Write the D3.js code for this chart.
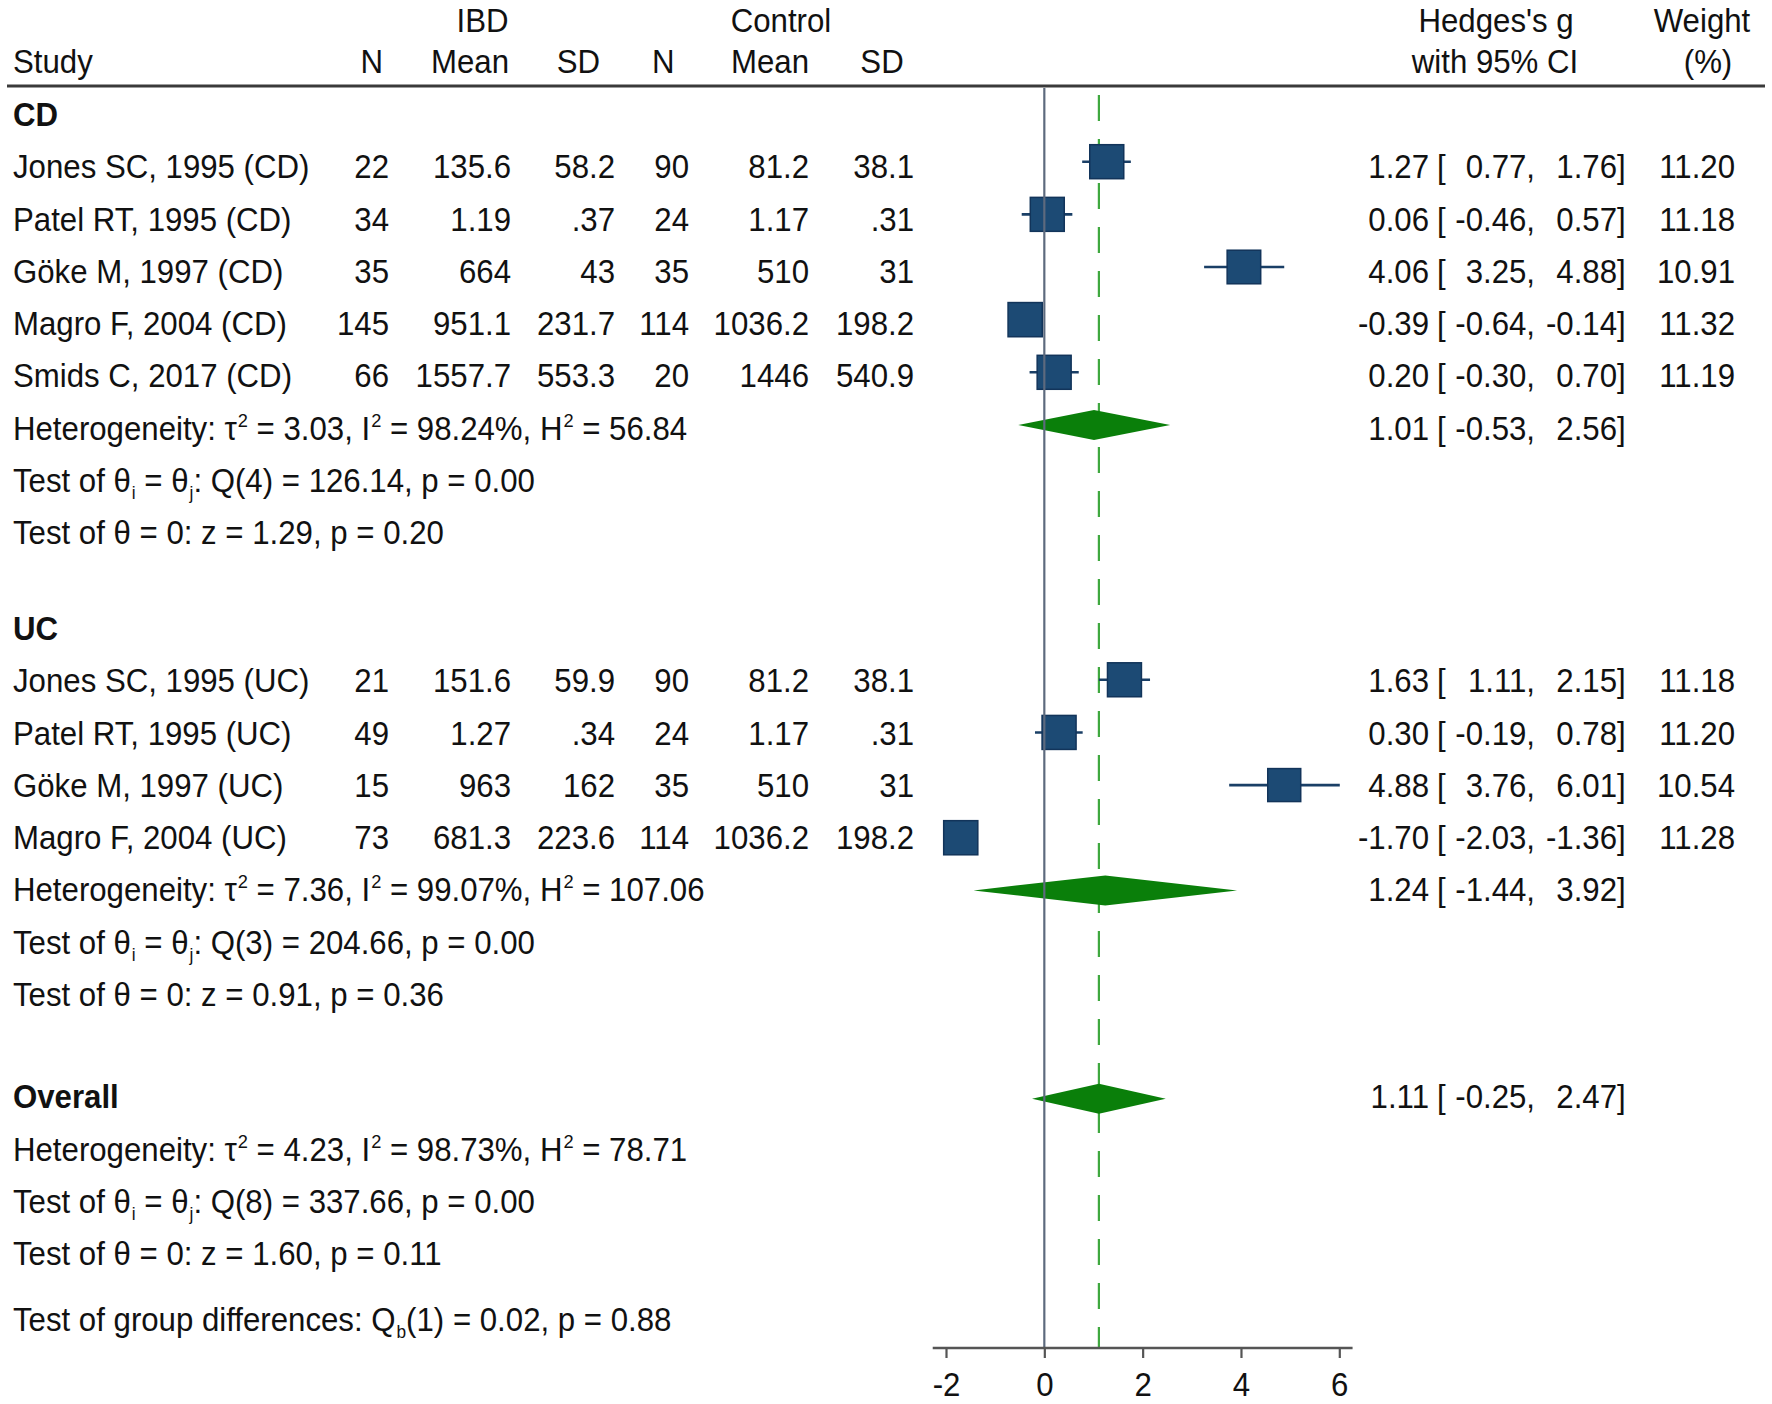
<!DOCTYPE html>
<html><head><meta charset="utf-8">
<script src="https://cdn.jsdelivr.net/npm/d3@7"></script>
<style>
body{margin:0;background:#fff}
svg{display:block}
text{font-family:"Liberation Sans",Arial,Helvetica,sans-serif;fill:#111}
</style>
</head><body>
<svg id="c" width="1772" height="1404"></svg>
<script>
// ---------- data ----------
const studies = ["Jones SC, 1995 (CD)","Patel RT, 1995 (CD)","Göke M, 1997 (CD)","Magro F, 2004 (CD)","Smids C, 2017 (CD)",
                 "Jones SC, 1995 (UC)","Patel RT, 1995 (UC)","Göke M, 1997 (UC)","Magro F, 2004 (UC)"];
const subgroup = ["CD","CD","CD","CD","CD","UC","UC","UC","UC"];
const groupNames = ["CD","UC"];
const nIBD    = [22,34,35,145,66,21,49,15,73];
const meanIBD = [135.6,1.19,664,951.1,1557.7,151.6,1.27,963,681.3];
const sdIBD   = [58.2,0.37,43,231.7,553.3,59.9,0.34,162,223.6];
const nCtl    = [90,24,35,114,20,90,24,35,114];
const meanCtl = [81.2,1.17,510,1036.2,1446,81.2,1.17,510,1036.2];
const sdCtl   = [38.1,0.31,31,198.2,540.9,38.1,0.31,31,198.2];
const hedgesG = [1.27,0.06,4.06,-0.39,0.20,1.63,0.30,4.88,-1.70];
const ciLow   = [0.77,-0.46,3.25,-0.64,-0.30,1.11,-0.19,3.76,-2.03];
const ciHigh  = [1.76,0.57,4.88,-0.14,0.70,2.15,0.78,6.01,-1.36];
const weights = [11.20,11.18,10.91,11.32,11.19,11.18,11.20,10.54,11.28];

// summaries: CD, UC, Overall
const sumG    = [1.01,1.24,1.11];
const sumLow  = [-0.53,-1.44,-0.25];
const sumHigh = [2.56,3.92,2.47];
const tau2    = [3.03,7.36,4.23];
const I2      = [98.24,99.07,98.73];
const H2      = [56.84,107.06,78.71];
const Qdf     = [4,3,8];
const Qstat   = [126.14,204.66,337.66];
const Qp      = [0.00,0.00,0.00];
const zStat   = [1.29,0.91,1.60];
const zP      = [0.20,0.36,0.11];
const groupDiff = {df:1, Qb:0.02, p:0.88};
const xTicks  = [-2,0,2,4,6];
const colHeads = ["N","Mean","SD","N","Mean","SD"];
const groupHeads = ["IBD","Control"];

// ---------- layout ----------
const FS = 32.5, SX = 0.96;
const svg = d3.select("#c");
svg.append("rect").attr("width",1772).attr("height",1404).attr("fill","#fff");

const x = d3.scaleLinear().domain([-2,6]).range([946,1339.3]);
const markY = d3.scaleLinear().domain([0,1]).range([109.05,161.7]);
const textY = d3.scaleLinear().domain([0,1]).range([126,178.25]);
const sq = d3.scaleSqrt().domain([0,11.2]).range([0,34]);
const axisY = 1348, headerLineY = 86;

function txt(x0,y0,anchor,weight){
  return svg.append("text")
    .attr("transform",`translate(${x0},${y0}) scale(${SX},1)`)
    .attr("text-anchor",anchor).attr("font-size",FS)
    .attr("font-weight",weight||"normal");
}
function rich(x0,y0,parts){
  const t = txt(x0,y0,"start");
  let cur = 0;
  parts.forEach(p=>{
    const kind = p[1]||"n";
    const target = kind==="sup" ? -13 : kind==="sub" ? 7 : 0;
    const ts = t.append("tspan").text(p[0]).attr("dy", target-cur);
    if(kind!=="n"){ ts.attr("font-size", kind==="sup"?19:18).attr("dx",1); }
    cur = target;
  });
  return t;
}
const f2 = v => v.toFixed(2);
const fnum = v => String(v).replace(/^0\./,".");

// rows
const rows = [];
let slot = 0;
const groupGap = [0.84,0.96];
groupNames.forEach((gname,gi)=>{
  rows.push({type:"header",text:gname,slot:slot++});
  subgroup.forEach((s,i)=>{ if(s===gname) rows.push({type:"study",i,slot:slot++}); });
  rows.push({type:"het",g:gi,slot:slot++,diamond:true});
  rows.push({type:"testQ",g:gi,slot:slot++});
  rows.push({type:"testZ",g:gi,slot:slot++});
  slot += groupGap[gi];
});
rows.push({type:"header",text:"Overall",slot:slot,g:2,diamond:true}); slot++;
rows.push({type:"het",g:2,slot:slot++});
rows.push({type:"testQ",g:2,slot:slot++});
rows.push({type:"testZ",g:2,slot:slot}); slot += 1.27;
rows.push({type:"gdiff",slot:slot});

// columns (right edges and header centres)
const colVals = [nIBD,meanIBD,sdIBD,nCtl,meanCtl,sdCtl];
const colRight = [389,511,615,689,809,914];
const colHeadCenter = [371.7,470,578.3,663.3,770,882];
const groupHeadCenter = [482.5,781];
const esRight = 1429, lbX = 1437, loRight = 1535, hiRight = 1617, weightRight = 1735;

// ---------- headers ----------
txt(13,72.7,"start").text("Study");
colHeads.forEach((h,k)=>txt(colHeadCenter[k],72.7,"middle").text(h));
groupHeads.forEach((h,k)=>txt(groupHeadCenter[k],31.7,"middle").text(h));
txt(1496,31.7,"middle").text("Hedges's g");
txt(1495,72.7,"middle").text("with 95% CI");
txt(1702,31.7,"middle").text("Weight");
txt(1708,72.7,"middle").text("(%)");

svg.append("line").attr("x1",7).attr("x2",1765).attr("y1",headerLineY).attr("y2",headerLineY)
  .attr("stroke","#3a3a3a").attr("stroke-width",3);

// ---------- reference line (behind markers) ----------
svg.append("line").attr("x1",x(sumG[2])).attr("x2",x(sumG[2])).attr("y1",95).attr("y2",axisY)
  .attr("stroke","#3fa83f").attr("stroke-width",2.2).attr("stroke-dasharray","26,18");

// ---------- CI text helper ----------
function ciText(y,g,lo,hi,w){
  txt(esRight,y,"end").text(f2(g));
  txt(lbX,y,"start").text("[");
  txt(loRight,y,"end").text(f2(lo)+",");
  txt(hiRight,y,"end").text(f2(hi));
  txt(hiRight,y,"start").text("]");
  if(w!==undefined) txt(weightRight,y,"end").text(f2(w));
}
const markG = svg.append("g");
function diamond(g,yc){
  markG.append("path")
    .attr("d",`M${x(sumLow[g])},${yc} L${x(sumG[g])},${yc-15} L${x(sumHigh[g])},${yc} L${x(sumG[g])},${yc+15} Z`)
    .attr("fill","#0a7f0a");
}

// ---------- rows ----------
rows.forEach(r=>{
  const yc = markY(r.slot), yb = textY(r.slot);
  if(r.type==="header"){
    txt(13,yb,"start","bold").text(r.text);
    if(r.diamond){ diamond(r.g,yc); ciText(yb,sumG[r.g],sumLow[r.g],sumHigh[r.g]); }
  } else if(r.type==="study"){
    const i=r.i;
    txt(13,yb,"start").text(studies[i]);
    colVals.forEach((vals,k)=>txt(colRight[k],yb,"end").text(fnum(vals[i])));
    markG.append("line").attr("x1",x(ciLow[i])).attr("x2",x(ciHigh[i])).attr("y1",yc).attr("y2",yc)
      .attr("stroke","#1a3f66").attr("stroke-width",2.6);
    const s = sq(weights[i]);
    markG.append("rect").attr("x",x(hedgesG[i])-s/2).attr("y",yc-s/2).attr("width",s).attr("height",s)
      .attr("fill","#1c4a74").attr("stroke","#12345a").attr("stroke-width",1.5);
    ciText(yb,hedgesG[i],ciLow[i],ciHigh[i],weights[i]);
  } else if(r.type==="het"){
    const g=r.g;
    rich(13,yb,[["Heterogeneity: τ"],["2","sup"],[" = "+f2(tau2[g])+", I"],["2","sup"],[" = "+f2(I2[g])+"%, H"],["2","sup"],[" = "+f2(H2[g])]]);
    if(r.diamond){ diamond(g,yc); ciText(yb,sumG[g],sumLow[g],sumHigh[g]); }
  } else if(r.type==="testQ"){
    const g=r.g;
    rich(13,yb,[["Test of θ"],["i","sub"],[" = θ"],["j","sub"],[": Q("+Qdf[g]+") = "+f2(Qstat[g])+", p = "+f2(Qp[g])]]);
  } else if(r.type==="testZ"){
    const g=r.g;
    txt(13,yb,"start").text("Test of θ = 0: z = "+f2(zStat[g])+", p = "+f2(zP[g]));
  } else if(r.type==="gdiff"){
    rich(13,yb,[["Test of group differences: Q"],["b","sub"],["("+groupDiff.df+") = "+f2(groupDiff.Qb)+", p = "+f2(groupDiff.p)]]);
  }
});

// zero line on top
svg.append("line").attr("x1",x(0)).attr("x2",x(0)).attr("y1",headerLineY+2).attr("y2",axisY)
  .attr("stroke","#5d6a7e").attr("stroke-width",2.2);

// ---------- axis ----------
const axisPad = 0.27;
svg.append("line").attr("x1",x(xTicks[0]-axisPad)).attr("x2",x(xTicks[xTicks.length-1]+axisPad))
  .attr("y1",axisY).attr("y2",axisY).attr("stroke","#555").attr("stroke-width",2.5);
const axisG = svg.append("g").attr("transform",`translate(0,${axisY})`)
  .call(d3.axisBottom(x).tickValues(xTicks).tickSize(10).tickFormat(d=>String(d)));
axisG.select(".domain").remove();
axisG.selectAll(".tick line").attr("stroke","#555").attr("stroke-width",2.2);
axisG.selectAll(".tick text").attr("y",null).attr("dy",null)
  .attr("transform",`translate(0,48) scale(${SX},1)`).attr("font-size",FS).attr("fill","#111");
</script>
</body></html>
